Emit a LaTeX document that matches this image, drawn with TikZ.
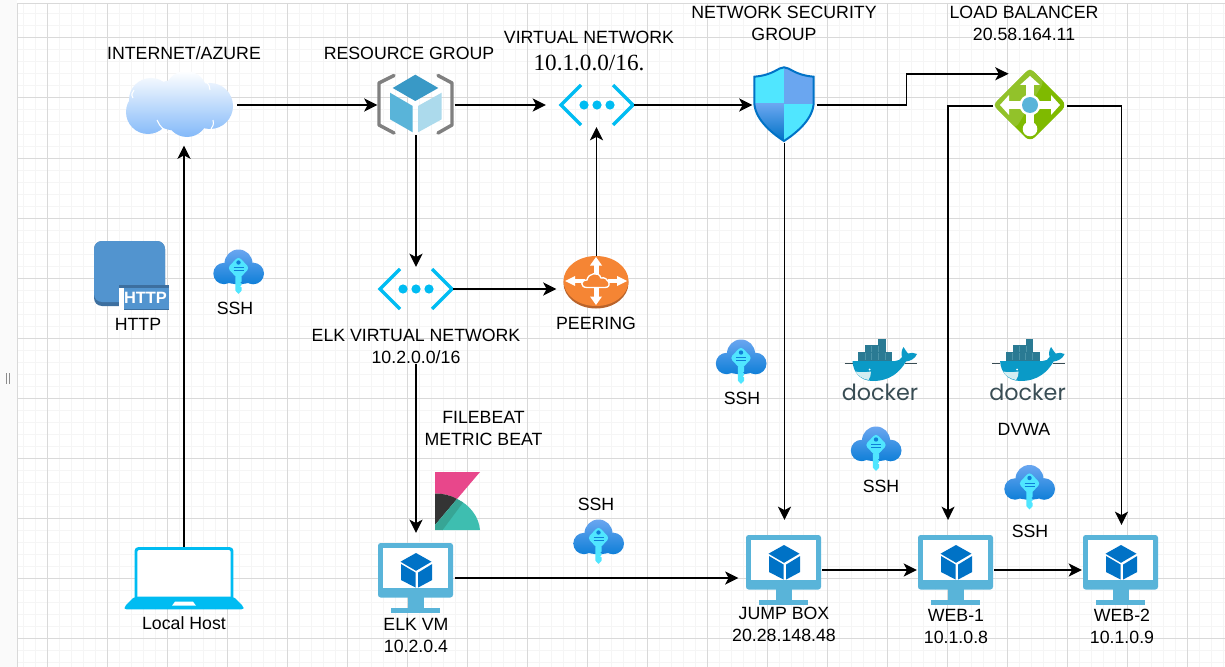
\documentclass[tikz,border=0pt]{standalone}
\usepackage{fontspec}
\setmainfont{Liberation Sans}
\newfontfamily\ipfont{Liberation Serif}
\newfontfamily\dockerfont{Poppins}
\usetikzlibrary{arrows.meta,positioning}

\tikzset{
    lbl/.style={font=\fontsize{13.3pt}{16.5pt}\selectfont, align=center, inner sep=0pt},
    iconbox/.style={inner sep=0pt, outer sep=0pt},
    vmbox/.style={iconbox, minimum width=57.75pt, minimum height=52.5pt},
    flow/.style={line width=1.2pt, -{Stealth[length=10pt,width=9.75pt,inset=2.6pt]}},
    gridminor/.style={color=gridlight, line width=.75pt},
    gridmajor/.style={color=griddark, line width=.75pt},
    dockerword/.style={font=\dockerfont\fontsize{16.7pt}{18pt}\selectfont, text=dockergrey, inner sep=0pt},
    vmicon/.pic={
        \fill[vmblue, rounded corners=2pt] (-37.5,0) rectangle (37.5,54.5);
        \fill[white] (-32.7,5.3) rectangle (32.7,44.5);
        \fill[vmblue] (-8,54) rectangle (8,65);
        \fill[vmblue] (-24.5,65) rectangle (24.5,69.6);
        \fill[cubeblue] (.5,10) -- (16,18.7) -- (.5,27.8) -- (-15,18.7) -- cycle;
        \fill[cubeblue] (-14.5,21) -- (0,29.5) -- (0,44.5) -- (-14.5,37) -- cycle;
        \fill[cubeblue] (2.7,29.5) -- (16.7,21) -- (16.7,37) -- (2.7,44.5) -- cycle;
    },
    vneticon/.pic={
        \draw[netblue, line width=2.4pt] (-16,-20) -- (-36,0) -- (-16,20);
        \draw[netblue, line width=2.4pt] (16,-20) -- (36,0) -- (16,20);
        \foreach \dotx in {-13,0,13}
            \fill[netblue] (\dotx,0) circle (4.6);
    },
    keyicon/.pic={
        \shade[top color=keytop, bottom color=keybottom] (-14.5,2) circle (10.7) (14.7,2) circle (10.8)
            (0,-8) circle (14) (0,3) ellipse (20 and 9.7);
        \fill[keycyan, rounded corners=2.5pt] (0,-15) -- (11,-3.5) -- (0,8) -- (-11,-3.5) -- cycle;
        \fill[keycyan] (-3.2,5) -- (-3.2,19) -- (0,22.5) -- (3.2,19) -- (3.2,16) -- (1.6,15)
            -- (3.2,13.5) -- (3.2,12) -- (1.6,11) -- (3.2,10) -- (3.2,5) -- cycle;
        \fill[keybottom] (0,-9) circle (2.2);
        \draw[keybottom, line width=.7pt] (-5,-3.7) -- (5,-3.7) (-5,-.7) -- (5,-.7);
    },
    whaleicon/.pic={
        \fill[whaledark] (23.3,20) rectangle (57.3,28.5);
        \fill[whaledark] (30,13.3) rectangle (50.7,20);
        \fill[whaledark] (43.3,7.3) rectangle (50.7,13.3);
        \foreach \slit in {30,36.5,43,50}
            \draw[whaleslit, line width=.3pt] (\slit,20.5) -- (\slit,28);
        \foreach \slit in {36.5,43.5}
            \draw[whaleslit, line width=.3pt] (\slit,13.8) -- (\slit,19.5);
        \draw[dockergrey, line width=.4pt] (9.5,31.7) -- (17.5,31.7) (70,31.7) -- (82,31.7);
        \fill[whaleblue] (17.5,29) -- (60,29) .. controls (63,29) and (66,27.5) .. (67,25)
            .. controls (66,22) and (66.5,18) .. (68.5,15) .. controls (70,18) and (72,20) .. (73,21.5)
            .. controls (76,20.5) and (79,20.5) .. (82,22) .. controls (80,27) and (75,29) .. (71,29.5)
            .. controls (65,40) and (55,49) .. (38,49) .. controls (25,49) and (18,40) .. (17.5,29) -- cycle;
        \fill[whalebelly] (20.5,39.5) .. controls (26,41) and (32,40) .. (36,39.5)
            .. controls (36,43) and (35,46) .. (33.5,48) .. controls (28,47) and (23,44) .. (20.5,39.5) -- cycle;
        \fill[white] (34.5,37.5) circle (1);
    },
}

\begin{document}
\begin{tikzpicture}[x=.75pt, y=-.75pt]
        \definecolor{griddark}{HTML}{D9D9D9}
        \definecolor{gridlight}{HTML}{F5F5F5}
        \definecolor{vmblue}{HTML}{59B4D9}
        \definecolor{cubeblue}{HTML}{0072C6}
        \definecolor{netblue}{HTML}{00BCF2}
        \definecolor{keytop}{HTML}{6AA6F0}
        \definecolor{keybottom}{HTML}{0F7FD8}
        \definecolor{keycyan}{HTML}{50E6FF}
        \definecolor{dockergrey}{HTML}{394D54}
        \definecolor{whaledark}{HTML}{2A7A93}
        \definecolor{whaleslit}{HTML}{4A93A8}
        \definecolor{whaleblue}{HTML}{0A9AC7}
        \definecolor{whalebelly}{HTML}{D4EDF1}
        \definecolor{cloudblue}{HTML}{83B9F9}
        \definecolor{httpblue}{HTML}{5294CF}
        \definecolor{httpdark}{HTML}{3D6F9F}
        \definecolor{peerorange}{HTML}{F58534}
        \definecolor{peerdark}{HTML}{B9632A}
        \definecolor{lbgreen}{HTML}{7FBA00}
        \definecolor{lblight}{HTML}{92C22A}
        \definecolor{cubetop}{HTML}{3999C6}
        \definecolor{kibanapink}{HTML}{E8478B}
        \definecolor{kibanadark}{HTML}{343434}
        \definecolor{kibanateal}{HTML}{3EBEB0}
        \definecolor{kibanamix}{HTML}{37A595}

        \useasboundingbox (0,0) rectangle (1225,667);
        \fill[white] (0,0) rectangle (1225,667);
        \fill[black!2] (0,0) rectangle (17,667);

        % grid
        \foreach \gx in {23,35,...,1223}
            \draw[gridminor] (\gx,3.5) -- (\gx,667);
        \foreach \gy in {14,26,...,662}
            \draw[gridminor] (17,\gy) -- (1225,\gy);
        \foreach \gx in {17,47,107,167,...,1187}
            \draw[gridmajor] (\gx,3.5) -- (\gx,667);
        \foreach \gy in {3.5,38,98,...,638}
            \draw[gridmajor] (17,\gy) -- (1225,\gy);
        \fill[black!45] (5.5,373) rectangle (7,384);
        \fill[black!45] (8.7,373) rectangle (10.4,384);

        % cloud
        \shade[top color=white, bottom color=cloudblue] (186,92) circle (21) (151,100) circle (22)
            (148,112) circle (22) (187,116) circle (21) (210,106) circle (23) (180,105) ellipse (36 and 26);
        \draw[white, line width=.8pt] (157,120) .. controls (160,127) and (165,132) .. (172,134)
            (213,120) .. controls (214,124) and (213,127) .. (211,129)
            (133,98) .. controls (131,95) and (132,92) .. (134,90)
            (210,90) .. controls (210,87) and (209,84) .. (206,82);

        % resource group
        \draw[gray, line width=2.6pt, line cap=round, line join=round] (394,75.5) -- (379,83) -- (379,125) -- (394,133);
        \draw[gray, line width=2.6pt, line cap=round, line join=round] (438,75.5) -- (452,83) -- (452,125) -- (438,133);
        \fill[cubetop] (415.3,74.7) -- (438.3,88) -- (415.3,101) -- (392.7,88) -- cycle;
        \fill[vmblue] (390,92.7) -- (412.7,106) -- (412.7,132.3) -- (390,119.3) -- cycle;
        \fill[vmblue!50] (418,106) -- (441.7,92.7) -- (441.7,119.3) -- (418,132.3) -- cycle;

        % shield
        \begin{scope}[shift={(784,104)}]
            \begin{scope}
                \clip (0,-36.7) .. controls (-6,-36.7) and (-10,-29) .. (-29.7,-27.3) -- (-29.7,-2)
                    .. controls (-29.7,14) and (-14,28) .. (0,37) .. controls (14,28) and (29.7,14) .. (29.7,-2)
                    -- (29.7,-27.3) .. controls (10,-29) and (6,-36.7) .. (0,-36.7) -- cycle;
                \fill[keycyan] (-30,-37) rectangle (0,0);
                \fill[keytop] (0,-37) rectangle (30,0);
                \shade[top color=keytop, bottom color=cubeblue] (-30,0) rectangle (0,37);
                \fill[keycyan] (0,0) rectangle (30,37);
            \end{scope}
            \draw[cubeblue, line width=1.5pt] (0,-36.7) .. controls (-6,-36.7) and (-10,-29) .. (-29.7,-27.3) -- (-29.7,-2)
                .. controls (-29.7,14) and (-14,28) .. (0,37) .. controls (14,28) and (29.7,14) .. (29.7,-2)
                -- (29.7,-27.3) .. controls (10,-29) and (6,-36.7) .. (0,-36.7) -- cycle;
        \end{scope}

        % load balancer
        \begin{scope}[shift={(1030,105)}]
            \fill[lbgreen, rounded corners=5pt] (0,-37) -- (37,0) -- (0,37) -- (-37,0) -- cycle;
            \fill[lblight, rounded corners=3pt] (0,-37) -- (-37,0) -- (-14,23) -- (14,-23) -- cycle;
            \fill[white] (-4.3,-24) rectangle (4.3,24);
            \fill[white] (-24,-4.3) rectangle (24,4.3);
            \fill[white] (0,-29) -- (10,-20) -- (-10,-20) -- cycle;
            \fill[white] (-30,0) -- (-21,-10) -- (-21,10) -- cycle;
            \fill[white] (30,0) -- (21,-10) -- (21,10) -- cycle;
            \fill[white] (0,24) circle (7.3);
            \fill[white] (0,0) circle (10.5);
            \fill[vmblue] (0,0) circle (8);
        \end{scope}

        % peering
        \begin{scope}[shift={(596,281)}]
            \fill[peerdark] (0,2) ellipse (32.5 and 25.5);
            \fill[peerorange] (0,0) ellipse (32.5 and 25);
            \fill[white] (-2.5,-16) rectangle (2.5,-7);
            \fill[white] (-2.5,7) rectangle (2.5,16);
            \fill[white] (-21,-1.8) rectangle (-11,1.8);
            \fill[white] (12,-1.8) rectangle (21,1.8);
            \fill[white] (0,-24) -- (6,-15.5) -- (-6,-15.5) -- cycle;
            \fill[white] (0,24) -- (6,15.5) -- (-6,15.5) -- cycle;
            \fill[white] (-31,0) -- (-21,-5) -- (-21,5) -- cycle;
            \fill[white] (31,0) -- (21,-5) -- (21,5) -- cycle;
            \draw[white, fill=peerorange, line width=1pt] (-9,6.5) .. controls (-16,6.5) and (-16,-1) .. (-9,-1)
                .. controls (-8,-8) and (3,-10) .. (5,-3) .. controls (12,-5) and (17,6.5) .. (9,6.5) -- cycle;
        \end{scope}

        % http
        \fill[httpdark, rounded corners=6pt] (94,241) rectangle (165,306);
        \fill[httpblue, rounded corners=6pt] (94,241) rectangle (165,302);
        \fill[httpdark] (119,285) rectangle (169,310);
        \fill[white] (119,288) rectangle (123.5,310);
        \fill[httpblue] (123.5,288) rectangle (169,308.5);
        \node[iconbox, font=\fontsize{12.3pt}{13pt}\selectfont\bfseries, text=white] (httpbadge) at (145.5,297.5) {HTTP};

        % laptop
        \begin{scope}[shift={(184,578)}]
            \draw[netblue, fill=white, line width=2.2pt, rounded corners=2pt] (-48,20) -- (-48,-29.5) -- (48,-29.5) -- (48,20);
            \fill[netblue, rounded corners=1.5pt] (-49.5,18.7) -- (49.5,18.7) -- (59.5,28.5) -- (59.5,31.3) -- (-59.5,31.3) -- (-59.5,28.5) -- cycle;
            \fill[white] (-9,23.7) -- (9,23.7) -- (12,27.7) -- (-12,27.7) -- cycle;
        \end{scope}

        % kibana
        \begin{scope}[shift={(435,472)}]
            \fill[kibanapink] (0,0) -- (45,0) -- (22,27) .. controls (15,23) and (8,21.5) .. (0,21.5) -- cycle;
            \fill[kibanadark] (0,21.5) .. controls (8,21.5) and (15,23) .. (22,27) -- (0,53) -- cycle;
            \fill[kibanateal] (22,27) .. controls (35,33) and (44,45) .. (45,58) -- (7,58) -- cycle;
            \fill[kibanamix] (0,53) -- (22,27) -- (28,30.5) -- (7.6,58) -- (0,58) -- cycle;
        \end{scope}

        % icons
        \pic at (597,105) {vneticon};
        \pic at (416,289) {vneticon};
        \pic at (783.5,535) {vmicon};
        \pic at (955.5,535) {vmicon};
        \pic at (1120.5,535) {vmicon};
        \pic at (415.5,543) {vmicon};
        \pic at (238.5,271.5) {keyicon};
        \pic at (741,361.5) {keyicon};
        \pic at (876,448.5) {keyicon};
        \pic at (1029.5,487) {keyicon};
        \pic at (598.5,541.5) {keyicon};
        \pic at (835,332) {whaleicon};
        \pic at (982.6,332) {whaleicon};
        \node[dockerword] (docker1) at (880,392) {docker};
        \node[dockerword] (docker2) at (1027.6,392) {docker};

        % nodes for the connectors
        \node[iconbox, minimum width=79.5pt, minimum height=60.75pt] (cloud) at (184,105) {};
        \node[iconbox, minimum width=57.75pt, minimum height=45pt] (rgroup) at (416,105) {};
        \node[iconbox, minimum width=55.5pt, minimum height=33pt] (vnet) at (597,105) {};
        \node[iconbox, minimum width=48pt, minimum height=56.25pt] (nsg) at (784.5,105) {};
        \node[iconbox, minimum width=55.5pt, minimum height=54.75pt] (lb) at (1030,106) {};
        \node[iconbox, minimum width=55.5pt, minimum height=33pt] (elknet) at (416,289) {};
        \node[iconbox, minimum width=51pt, minimum height=39pt] (peering) at (596.5,282) {};
        \node[iconbox, minimum width=90pt, minimum height=47.25pt] (laptop) at (184,578) {};
        \node[vmbox] (elkvm) at (416,578) {};
        \node[vmbox] (jump) at (783.5,570) {};
        \node[vmbox] (web1) at (955.5,570) {};
        \node[vmbox] (web2) at (1120.5,570) {};

        % labels
        \node[lbl] (cloudlbl) at (184,53) {INTERNET/AZURE};
        \node[lbl] (rgrouplbl) at (409,53) {RESOURCE GROUP};
        \node[lbl] (vnetlbl) at (589,37) {VIRTUAL NETWORK};
        \node[lbl, font=\ipfont\fontsize{17.4pt}{18pt}\selectfont] (vnetip) at (589,63) {10.1.0.0/16.};
        \node[lbl] (nsglbl) at (784,23.5) {NETWORK SECURITY\\GROUP};
        \node[lbl] (lblbl) at (1024,23.5) {LOAD BALANCER\\20.58.164.11};
        \node[lbl] (httplbl) at (138,324) {HTTP};
        \node[lbl] (ssh1) at (235,308) {SSH};
        \node[lbl] (elklbl) at (416,346) {ELK VIRTUAL NETWORK\\10.2.0.0/16};
        \node[lbl] (peerlbl) at (596,323) {PEERING};
        \node[lbl] (beatlbl) at (483.5,428) {FILEBEAT\\METRIC BEAT};
        \node[lbl] (ssh2) at (596,504) {SSH};
        \node[lbl] (locallbl) at (184,623) {Local Host};
        \node[lbl] (elkvmlbl) at (416,635) {ELK VM\\10.2.0.4};
        \node[lbl] (jumplbl) at (784,624) {JUMP BOX\\20.28.148.48};
        \node[lbl] (web1lbl) at (956,626) {WEB-1\\10.1.0.8};
        \node[lbl] (web2lbl) at (1122,626) {WEB-2\\10.1.0.9};
        \node[lbl] (ssh3) at (742,398) {SSH};
        \node[lbl] (ssh4) at (881,486) {SSH};
        \node[lbl] (dvwalbl) at (1024,429) {DVWA};
        \node[lbl] (ssh5) at (1030,531) {SSH};

        % connectors
        \draw[flow] (cloud.east) -- (rgroup.west);
        \draw[flow, shorten >=10.5pt] (rgroup.east) -- (vnet.west);
        \draw[flow] (vnet.east) -- (nsg.west);
        \draw[flow] (nsg.east) -- ++(90,0) |- ([xshift=11.7pt,yshift=-3.2pt]lb.north west);
        \draw[flow, shorten >=11.25pt] (nsg.south) -- (nsg.south |- jump.north);
        \draw[flow] (lb.west) -| ([xshift=-5.6pt,yshift=11.25pt]web1.north);
        \draw[flow] (lb.east) -| ([xshift=.75pt,yshift=7.5pt]web2.north);
        \draw[flow] (rgroup.south) -- (elknet.north);
        \draw[flow, shorten >=4.5pt] (elknet.east) -- (elknet.east -| peering.west);
        \draw[flow] (peering.north) -- (peering.north |- vnet.south);
        \draw[flow, shorten >=7.5pt] (elklbl.south) -- (elkvm.north);
        \draw[flow] (laptop.north) -- (cloud.south);
        \draw[flow, shorten >=4.9pt] (elkvm.east) -- (elkvm.east -| jump.west);
        \draw[flow] (jump.east) -- (web1.west);
        \draw[flow] (web1.east) -- (web2.west);
    \end{tikzpicture}
\end{document}
